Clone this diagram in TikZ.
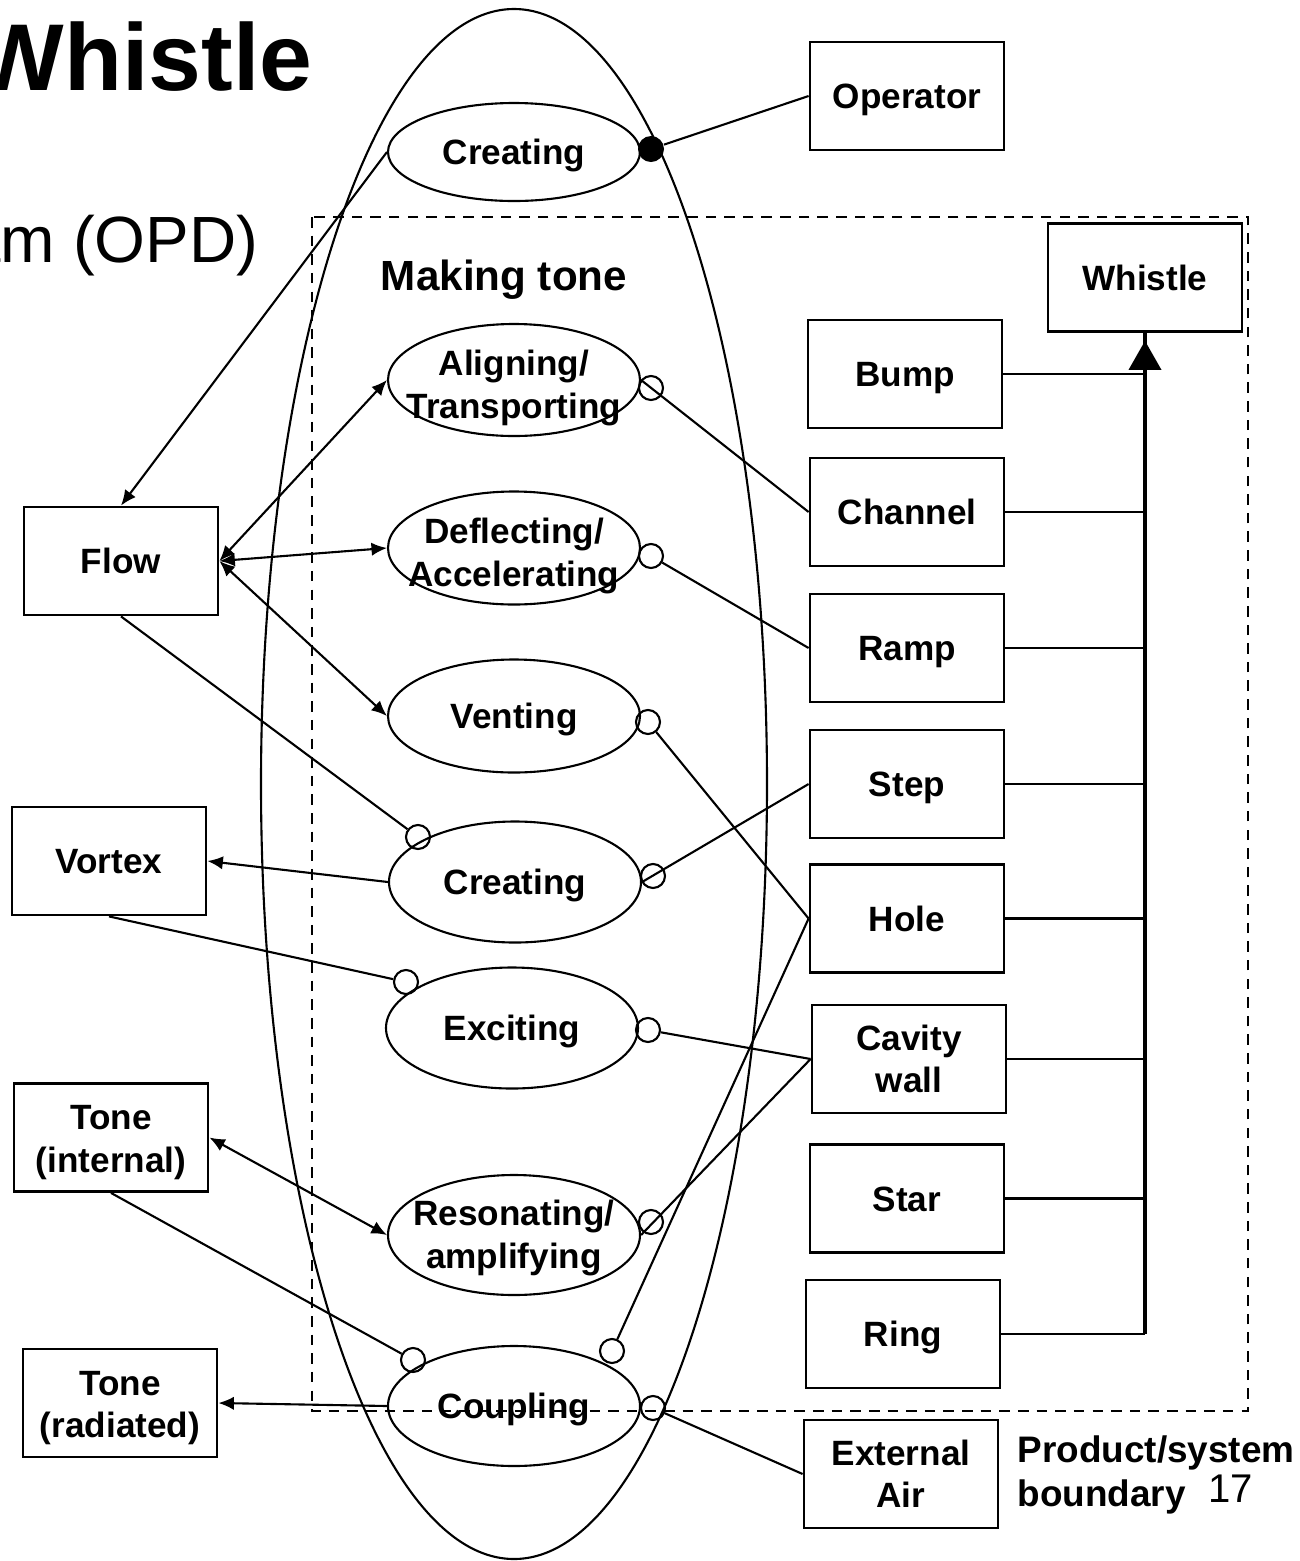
\documentclass[tikz,border=0pt]{standalone}
\usepackage{fontspec}
\setmainfont{Liberation Sans}
\usetikzlibrary{shapes.geometric,arrows.meta,calc}

\begin{document}
\begin{tikzpicture}[
  x=1cm,y=1cm,
  proc/.style={ellipse,draw,line width=0.6pt,minimum width=2.52cm,minimum height=1.18cm,
    inner sep=0pt},
  proctxt/.style={inner sep=0pt,align=center,font=\bfseries\fontsize{10}{12}\selectfont},
  oneline/.style={proctxt,text height=0.73em,text depth=0pt},
  twoline/.style={proctxt,yshift=-0.08cm},
  obj/.style={rectangle,draw,line width=0.8pt,minimum width=1.94cm,minimum height=1.08cm,
    inner sep=0pt,align=center,font=\bfseries\fontsize{10}{12}\selectfont},
  single/.style={text height=0.73em,text depth=0pt},
  objtxt/.style={inner sep=0pt,align=center,font=\bfseries\fontsize{10}{12}\selectfont,yshift=-0.05cm},
  link/.style={line width=0.6pt},
  arr/.style={link,-{Latex[length=4.4pt,width=3.8pt]}},
  biarr/.style={link,{Latex[length=4.4pt,width=3.8pt]}-{Latex[length=4.4pt,width=3.8pt]}},
  instr/.style={circle,draw,line width=0.6pt,minimum size=0.24cm,inner sep=0pt},
  agentdot/.style={circle,fill,minimum size=0.26cm,inner sep=0pt},
  boundary/.style={dash pattern=on 3pt off 2.3pt,line width=0.7pt},
]
\useasboundingbox (0,0) rectangle (13,-15.61);

% headings
\node[anchor=base east,inner sep=0pt,font=\bfseries\fontsize{27}{27}\selectfont] (title) at (3.13,-0.90) {Whistle};
\node[anchor=base east,inner sep=0pt,font=\fontsize{18.6}{20}\selectfont] (subtitle) at (2.59,-2.62) {am (OPD)};

% system boundary
\draw[boundary] (3.12,-2.17) rectangle (12.48,-14.11);
\node[anchor=north west,inner sep=0pt,align=left,font=\bfseries\fontsize{10.5}{12.5}\selectfont] (bnd) at (10.17,-14.35) {Product/system\\boundary};
\node[anchor=base west,inner sep=0pt,font=\fontsize{11.4}{12}\selectfont] (pagenum) at (12.08,-15.02) {17};

% enclosing process
\draw[line width=0.6pt] (5.14,-7.84) ellipse [x radius=2.53, y radius=7.75];
\node[font=\bfseries\fontsize{12}{14}\selectfont,inner sep=0pt,text height=0.73em,text depth=0pt] (making) at (5.04,-2.78) {Making tone};

% processes (fixed size, text set on top)
\node[proc,minimum height=0.98cm,label={[oneline]center:Creating}] (opTop) at (5.14,-1.52) {};
\node[proc,minimum height=1.12cm,label={[twoline]center:{Aligning/\\Transporting}}] (align) at (5.14,-3.80) {};
\node[proc,minimum height=1.13cm,label={[twoline]center:{Deflecting/\\Accelerating}}] (deflect) at (5.14,-5.48) {};
\node[proc,minimum height=1.13cm,label={[oneline]center:Venting}] (vent) at (5.14,-7.16) {};
\node[proc,minimum height=1.21cm,label={[oneline]center:Creating}] (create) at (5.15,-8.82) {};
\node[proc,minimum height=1.21cm,label={[oneline]center:Exciting}] (excite) at (5.12,-10.28) {};
\node[proc,minimum height=1.20cm,label={[proctxt,yshift=-0.03cm]center:{Resonating/\\amplifying}}] (reson) at (5.14,-12.35) {};
\node[proc,minimum height=1.20cm,label={[oneline]center:Coupling}] (couple) at (5.14,-14.06) {};

% objects
\node[obj,single] (operator) at (9.07,-0.96) {Operator};
\node[obj,single] (whistle) at (11.45,-2.775) {Whistle};
\node[obj,single] (bump) at (9.05,-3.74) {Bump};
\node[obj,single] (channel) at (9.07,-5.12) {Channel};
\node[obj,single] (ramp) at (9.07,-6.48) {Ramp};
\node[obj,single] (step) at (9.07,-7.84) {Step};
\node[obj,single] (hole) at (9.07,-9.185) {Hole};
\node[obj] (cavity) at (9.09,-10.59) {Cavity\\wall};
\node[obj,single] (star) at (9.07,-11.985) {Star};
\node[obj,single] (ring) at (9.03,-13.34) {Ring};
\node[obj] (extair) at (9.01,-14.74) {External\\Air};
\node[obj,single] (flow) at (1.21,-5.61) {Flow};
\node[obj,single] (vortex) at (1.09,-8.61) {Vortex};
\node[obj,label={[objtxt]center:{Tone\\(internal)}}] (toneint) at (1.11,-11.375) {};
\node[obj,label={[objtxt]center:{Tone\\(radiated)}}] (tonerad) at (1.20,-14.03) {};

% link-end markers
\node[agentdot] (ag) at (6.51,-1.49) {};
\node[instr] (iA) at (6.51,-3.88) {};
\node[instr] (iD) at (6.51,-5.56) {};
\node[instr] (iV) at (6.48,-7.22) {};
\node[instr] (iCr) at (6.53,-8.76) {};
\node[instr] (iCl) at (4.18,-8.37) {};
\node[instr] (iEr) at (6.48,-10.30) {};
\node[instr] (iEl) at (4.06,-9.82) {};
\node[instr] (iR) at (6.51,-12.22) {};
\node[instr] (iPl) at (4.13,-13.60) {};
\node[instr] (iPt) at (6.12,-13.51) {};
\node[instr] (iPr) at (6.53,-14.08) {};

% agent link
\draw[link] (ag) -- (operator.west);

% flow links
\draw[arr] (opTop.west) -- (flow.north);
\draw[biarr] (flow.east) -- (align.west);
\draw[biarr] (flow.east) -- (deflect.west);
\draw[biarr] (flow.east) -- (vent.west);
\draw[link] (flow.south) -- (iCl);
\draw[arr] (create.west) -- (vortex.east);
\draw[link] (vortex.south) -- (iEl);
\draw[biarr] (toneint.east) -- (reson.west);
\draw[link] (toneint.south) -- (iPl);
\draw[arr] (couple.west) -- (tonerad.east);

% instrument links
\draw[link] (channel.west) -- (align.east);
\draw[link] (ramp.west) -- (iD);
\draw[link] (hole.west) -- (iV);
\draw[link] (step.west) -- (create.east);
\draw[link] (cavity.west) -- (iEr);
\draw[link] (cavity.west) -- (reson.east);
\draw[link] (hole.west) -- (iPt);
\draw[link] (extair.west) -- (iPr);

% aggregation of the whistle's parts
\draw[line width=1.1pt] (ring.east -| whistle.south) -- (whistle.south);
\foreach \p in {bump,channel,ramp,step,hole,cavity,star,ring}
  \draw[link] (\p.east) -- (\p.east -| whistle.south);
\fill ($(whistle.south)+(0,-0.08)$) -- ++(-0.165,-0.29) -- ++(0.33,0) -- cycle;
\end{tikzpicture}
\end{document}
